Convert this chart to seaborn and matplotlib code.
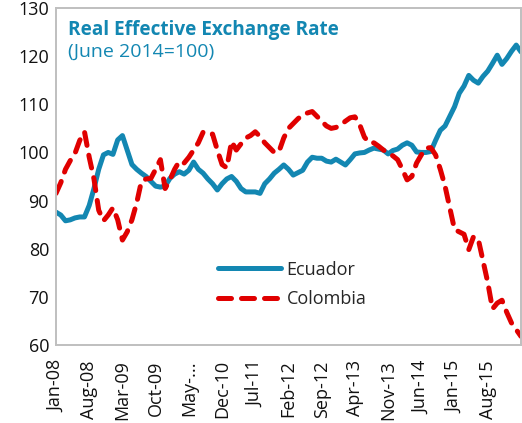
import pandas as pd
import matplotlib
matplotlib.use("Agg")
import matplotlib.pyplot as plt
import seaborn as sns

# monthly REER, June 2014 = 100, Jan-08 .. Mar-16
ecuador = [87.6, 87.0, 85.8, 86.0, 86.4, 86.6, 86.6, 89.0, 92.5, 96.5,
           99.5, 100.0, 99.6, 102.6, 103.5, 100.5, 97.5, 96.5, 95.7, 95.0,
           94.0, 93.0, 92.8, 93.0, 94.6, 95.5, 96.0, 95.5, 96.3, 98.0,
           96.5, 95.7, 94.5, 93.5, 92.2, 93.5, 94.5, 95.0, 94.0, 92.5,
           91.8, 91.8, 91.8, 91.5, 93.5, 94.5, 95.7, 96.5, 97.4, 96.5,
           95.3, 95.8, 96.3, 98.0, 99.0, 98.8, 98.8, 98.2, 98.0, 98.6,
           98.0, 97.4, 98.5, 99.7, 99.9, 100.0, 100.5, 100.9, 100.7, 100.5,
           99.7, 100.4, 100.7, 101.5, 102.0, 101.5, 100.1, 100.0, 100.0, 100.2,
           102.5, 104.6, 105.5, 107.5, 109.5, 112.3, 113.8, 116.0, 115.0, 114.4,
           115.8, 116.9, 118.5, 120.2, 118.3, 119.5, 121.0, 122.3, 120.9]
colombia = [91.5, 93.7, 96.5, 98.3, 99.8, 102.5, 104.3, 99.0, 94.5, 88.0,
            85.8, 87.0, 88.5, 86.0, 81.8, 83.5, 86.0, 89.5, 94.0, 94.5,
            94.6, 96.5, 98.5, 92.5, 94.3, 96.5, 98.2, 97.8, 99.0, 100.5,
            102.0, 104.2, 104.3, 103.8, 100.5, 97.5, 96.8, 102.3, 100.5, 101.8,
            103.0, 103.5, 104.3, 103.3, 102.0, 101.0, 100.0, 100.2, 103.0, 105.0,
            106.0, 107.0, 107.8, 108.2, 108.5, 107.5, 106.5, 105.5, 105.0, 105.2,
            105.7, 106.5, 107.2, 107.4, 105.8, 103.2, 102.0, 102.0, 101.3, 100.5,
            99.8, 99.3, 98.5, 96.5, 94.3, 95.0, 97.8, 99.5, 100.9, 101.0,
            99.5, 96.5, 93.0, 88.5, 84.0, 83.5, 83.0, 79.8, 82.5, 82.0,
            77.5, 73.0, 67.5, 68.7, 69.3, 66.8, 64.6, 63.2, 61.8]
tick_labels = ["Jan-08", "Aug-08", "Mar-09", "Oct-09", "May-...", "Dec-10",
               "Jul-11", "Feb-12", "Sep-12", "Apr-13", "Nov-13", "Jun-14",
               "Jan-15", "Aug-15"]

months = list(range(len(ecuador)))
df = pd.DataFrame({
    "month": months + months,
    "value": ecuador + colombia,
    "country": ["Ecuador"] * len(ecuador) + ["Colombia"] * len(colombia),
})

sns.set_style("white")
plt.rcParams["font.family"] = ["Open Sans", "DejaVu Sans"]

blue = "#1387b2"
red = "#e00000"
grey = "#bfbfbf"

fig = plt.figure(figsize=(5.22, 4.23), dpi=100)
ax = fig.add_axes([0.1073, 0.1844, 0.8907, 0.7966])

sns.lineplot(data=df, x="month", y="value", hue="country", style="country",
             palette={"Ecuador": blue, "Colombia": red},
             dashes={"Ecuador": "", "Colombia": (2.6, 2.0)},
             linewidth=3.6, ax=ax)
for line in ax.get_lines():
    line.set_dash_capstyle("round")
    line.set_solid_joinstyle("round")

ax.set_xlim(0, len(ecuador) - 1)
ax.set_ylim(60, 130)
ax.set_yticks(range(60, 131, 10))
ax.set_xticks(range(0, 7 * len(tick_labels), 7))
ax.set_xticklabels(tick_labels, rotation=90)
ax.set_xlabel("")
ax.set_ylabel("")
ax.tick_params(axis="both", direction="in", length=5, width=1.2, color=grey,
               labelsize=13, labelcolor="#111111", pad=5)
ax.tick_params(axis="x", pad=11)

for s in ax.spines.values():
    s.set_color(grey)
    s.set_linewidth(1.4)

ax.text(0.026, 0.935, "Real Effective Exchange Rate", transform=ax.transAxes,
        fontsize=13.7, fontweight="bold", color=blue, va="center", ha="left")
ax.text(0.026, 0.869, "(June 2014=100)", transform=ax.transAxes,
        fontsize=14, color=blue, va="center", ha="left")

leg = ax.legend(loc="upper left", bbox_to_anchor=(0.348, 0.25), frameon=False,
                fontsize=13, borderpad=0, borderaxespad=0, handlelength=3.5,
                handletextpad=0.3, labelspacing=0.65)
for line in leg.get_lines():
    line.set_linewidth(3.6)
    line.set_dash_capstyle("round")

fig.savefig("out.png", dpi=100)
